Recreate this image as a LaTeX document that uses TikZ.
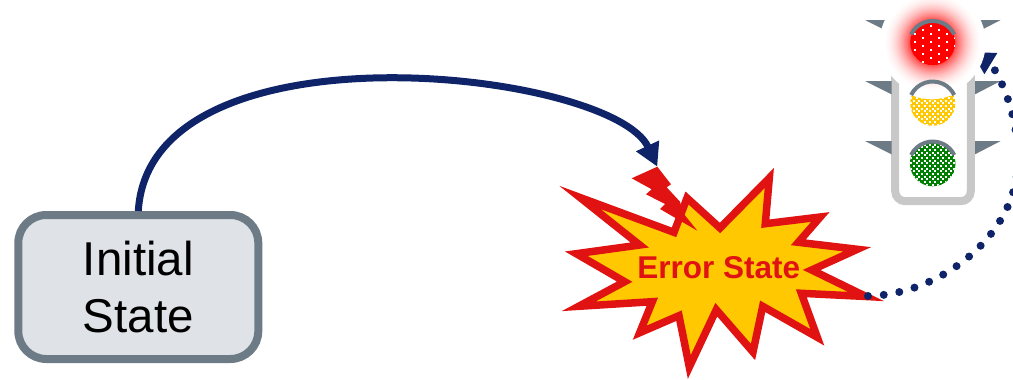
\documentclass[tikz,border=0pt]{standalone}
\usepackage{fontspec}
\setmainfont{Liberation Sans}
\usepackage{xcolor}
\usetikzlibrary{arrows.meta, positioning}
\definecolor{slate}{HTML}{6D7B87}
\definecolor{paleslate}{HTML}{DFE3E8}
\definecolor{navy}{HTML}{0F2468}
\definecolor{alarm}{HTML}{E01212}
\definecolor{amber}{HTML}{FFC800}
\definecolor{signalgreen}{HTML}{008000}
\definecolor{housing}{HTML}{C8C8C8}
\tikzset{
    statebox/.style={draw=slate, fill=paleslate, line width=8pt, rounded corners=28pt, minimum width=240pt, minimum height=144pt, align=center, font=\fontsize{47.5}{57}\selectfont},
    burst/.style={draw=alarm, fill=amber, line width=7.5pt, miter limit=30},
    errortext/.style={text=alarm, font=\fontsize{31.5}{36}\selectfont\bfseries},
    flow/.style={draw=navy, line width=7pt, -{Triangle[length=23pt,width=24pt]}},
    dotflow/.style={draw=navy, line width=8pt, line cap=round, dash pattern=on 0pt off 15.8pt, -{Triangle[length=23pt,width=23pt]}},
    hood/.style={draw=slate, line width=4pt},
    wing/.style={fill=slate},
}
% white specks: x, y of one speck, pitch in a row, pitch between rows, rows, columns
\newcommand{\lampdots}[6]{
    \foreach \ir in {-#5,...,#5}
        \foreach \ic in {-#6,...,#6}
            \fill[white] ({#1+(\ic+0.5*mod(\ir,2))*#3-1.1},{#2+\ir*#4-1.1}) rectangle ++(2.2,2.2);
}
\begin{document}
\begin{tikzpicture}[x=1pt,y=-1pt]
    \clip (0,0) rectangle (1013,380);
    % housing
    \draw[housing, line width=8pt, fill=white, rounded corners=10pt] (895.2,15) rectangle (970.8,201.2);
    \foreach \wy in {20,81,141} {
        \fill[wing] (865,\wy) -- (891.5,\wy) -- (891.5,\wy+13.3) -- cycle;
        \fill[wing] (1000.7,\wy) -- (975,\wy) -- (975,\wy+13.3) -- cycle;
    }
    % states
    \node[statebox] (initial) at (138.3,287) {Initial\\State};
    \draw[burst] (580,197.5) -- (674,232.3) -- (687,198) -- (720,228) -- (769.3,178) -- (765.3,223.7) -- (820.3,217) -- (798.3,242.3) -- (857.3,249.3) -- (811.7,270) -- (866,296.5) -- (801.3,293.3) -- (817.3,337.3) -- (762.7,306.3) -- (753,352) -- (716.3,309.7) -- (689.3,367) -- (679,315.7) -- (639.7,332.7) -- (652.3,301.7) -- (578.7,306.3) -- (624.7,281.7) -- (576.3,253.7) -- (639.7,245) -- cycle;
    \node[errortext] (error) at (718.7,267.6) {Error State};
    % dotted return
    \coordinate (bursttip) at (868,296);
    \coordinate (redlamp) at (971.2,51.7);
    \draw[dotflow] (bursttip) .. controls (940,295) and (1018,235) .. (1018,160) .. controls (1018,120) and (1005,85) .. (990.8,63.6) -- (redlamp);
    % glow
    \foreach \gr in {53,52,...,22} {
        \pgfmathtruncatemacro{\gp}{75*(max(51-\gr,0)/29)^2}
        \fill[red!\gp!white] (932.7,42.7) circle (\gr);
    }
    % lamps
    \fill[red] (932.7,42.7) circle (22.5);
    \begin{scope}
        \clip (932.7,42.7) circle (22.5);
        \lampdots{931}{42}{16}{4}{6}{2}
    \end{scope}
    \begin{scope}
        \clip (911,95) .. controls (925,101) and (940,101) .. (954.5,94) -- (965,94) -- (965,130) -- (900,130) -- (900,94) -- cycle;
        \clip (932.7,103.3) circle (22.5);
        \fill[amber] (932.7,103.3) circle (22.5);
        \lampdots{932.7}{103.3}{5.33}{2.67}{9}{5}
    \end{scope}
    \begin{scope}
        \clip (932.7,163.5) circle (22.8);
        \fill[signalgreen] (932.7,163.5) circle (22.8);
        \lampdots{932.7}{163.3}{5.33}{2.67}{9}{5}
    \end{scope}
    \foreach \ly in {42.7,103.3,163.3}
        \draw[hood] (911.1,\ly-8.3) arc (-154:-26:24);
    % bolt
    \fill[alarm] (657.3,166.7) -- (631.7,178.3) -- (651.7,189.3) -- (646,194.3) -- (665,204) -- (660,209) -- (697.3,230.7) -- (683.3,213.3) -- (680,201.7) -- (666.7,187.3) -- (671,184.3) -- cycle;
    \coordinate (bolttop) at (657.3,166.7);
    \draw[flow] (initial.north) .. controls (150,18) and (612,70) .. (bolttop);
\end{tikzpicture}
\end{document}
